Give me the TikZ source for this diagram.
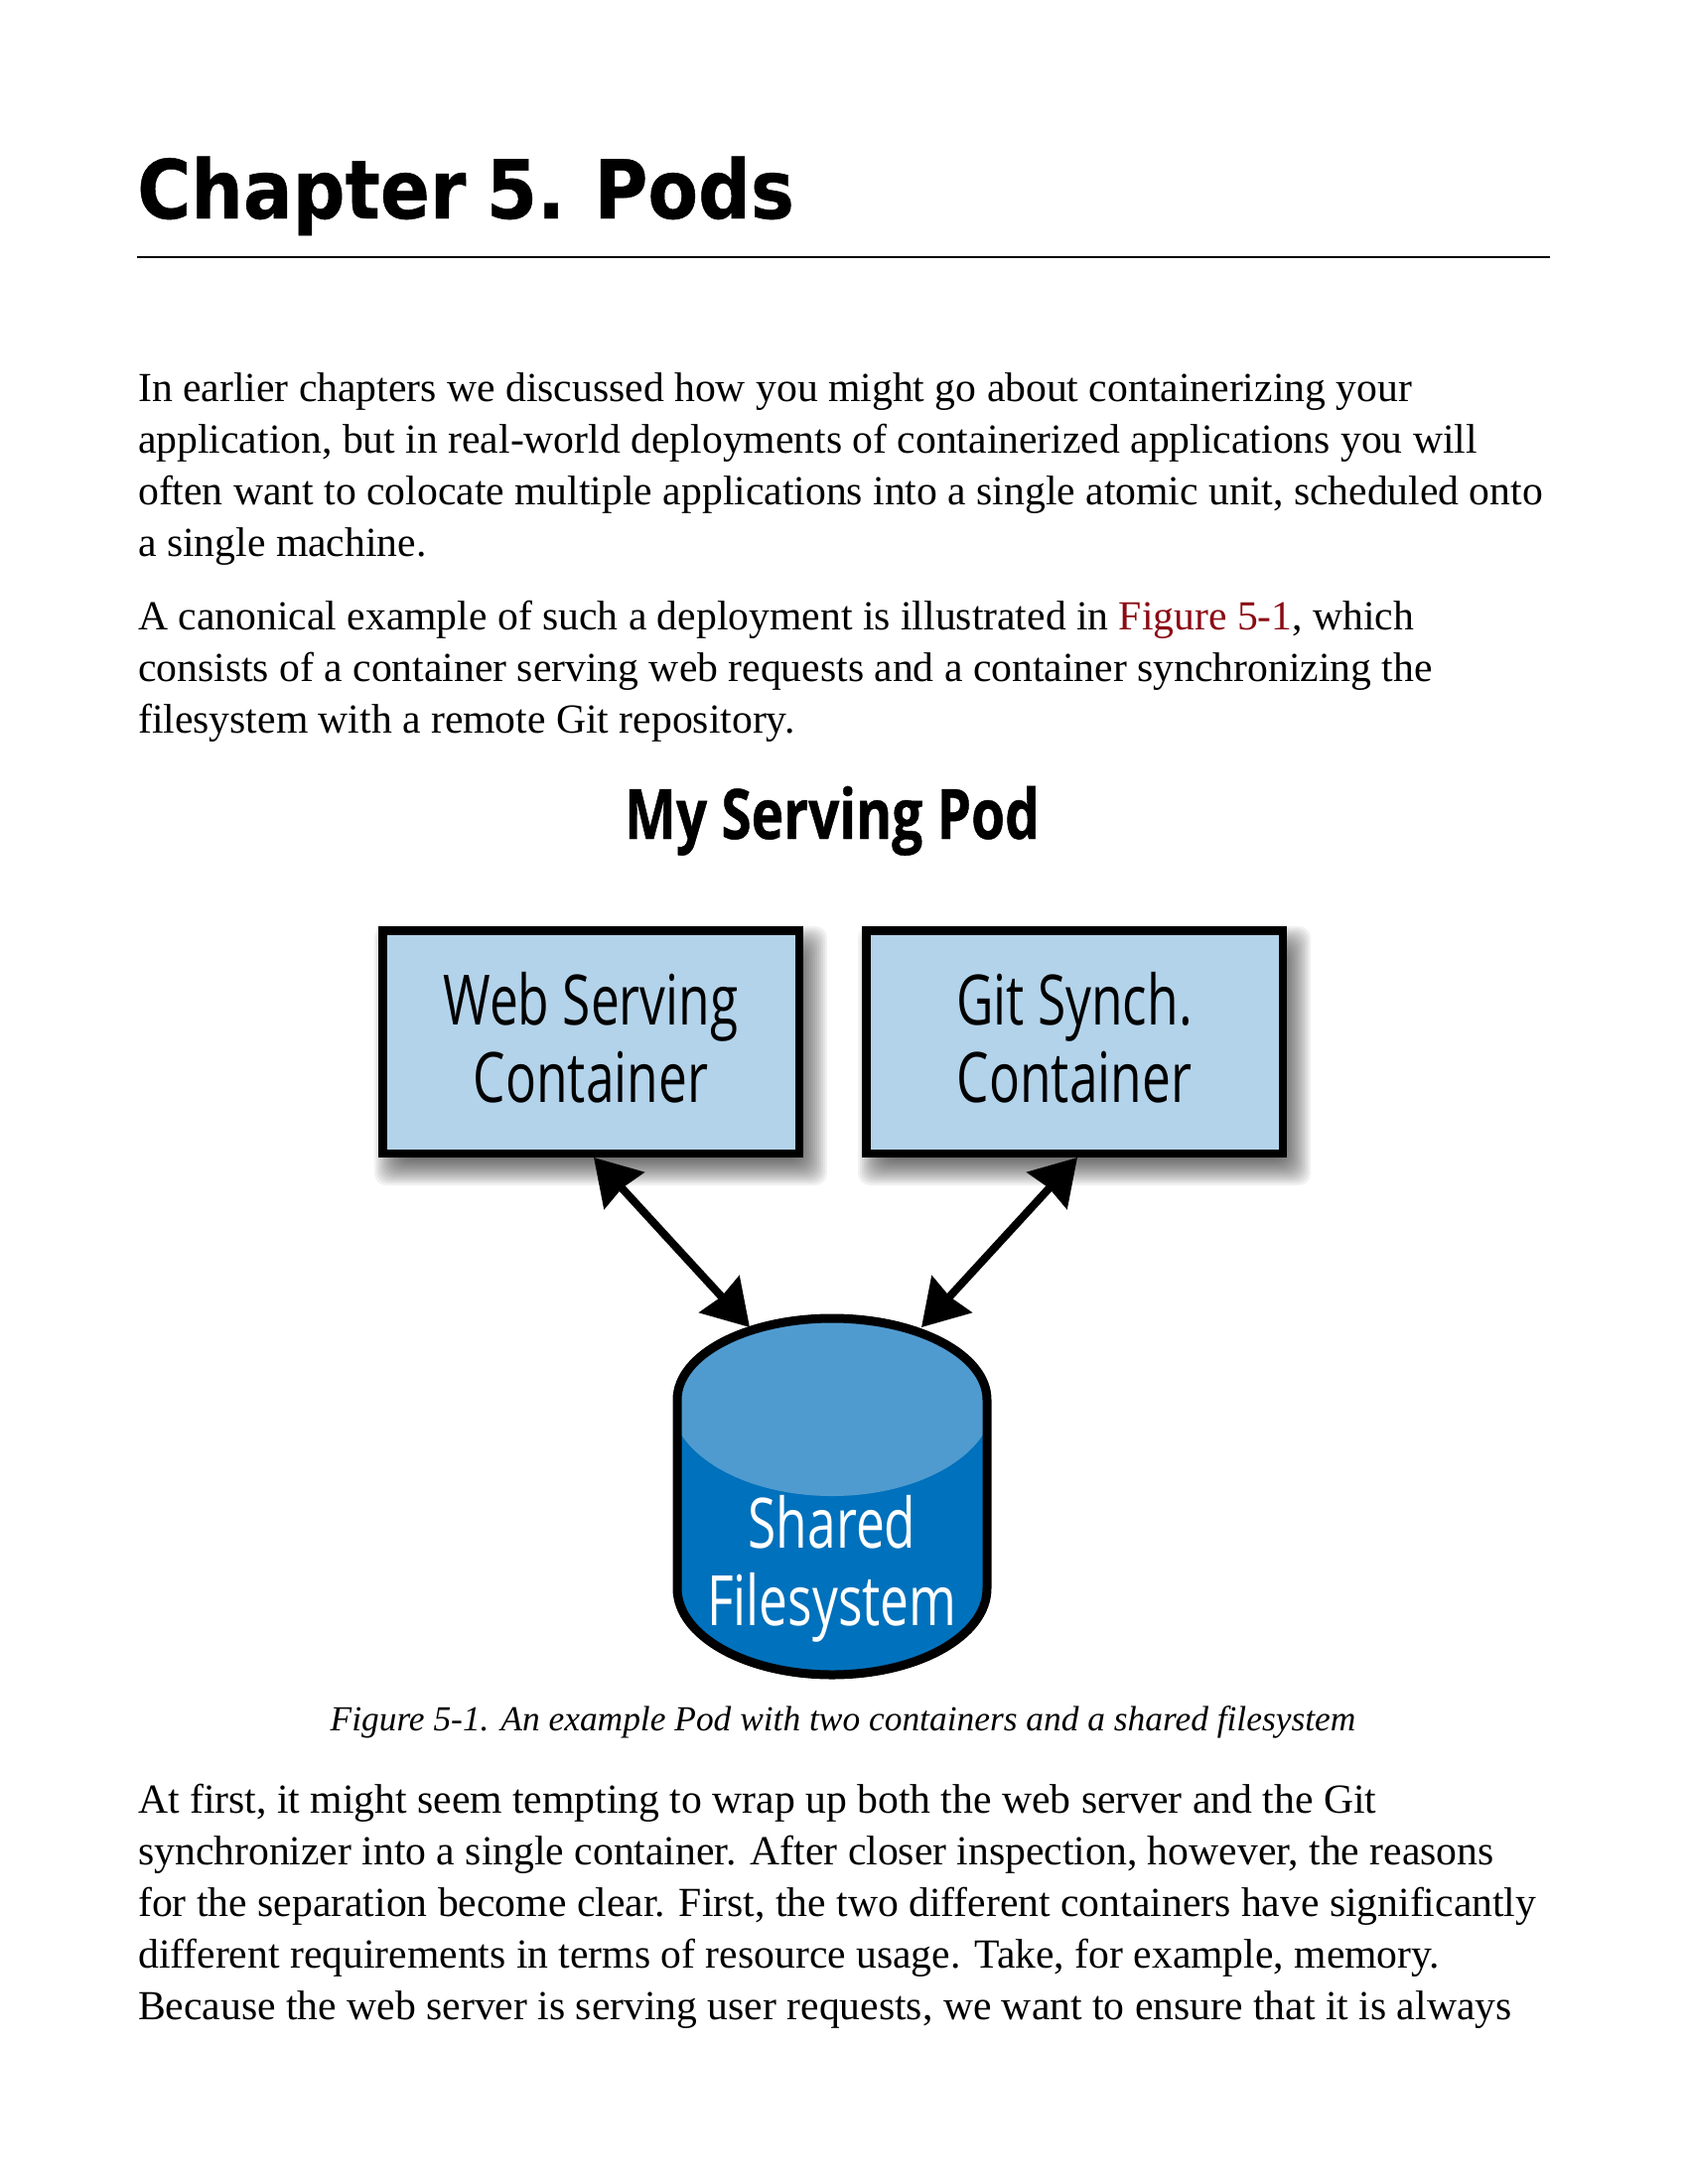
\documentclass[tikz,border=0pt]{standalone}
\usepackage{fontspec}
\setmainfont{Liberation Serif}
\newfontfamily\chapfont[FakeStretch=0.9,WordSpace=0.8,FakeBold=0.5]{DejaVu Sans}
\newfontfamily\podfont[FakeStretch=0.735]{Open Sans}
\newfontfamily\podtitlefont[FakeStretch=0.785,FakeBold=0.6]{Open Sans}
\usetikzlibrary{arrows.meta}
\usetikzlibrary{calc,backgrounds,positioning}
\definecolor{boxblue}{HTML}{B3D3EA}
\definecolor{fslight}{HTML}{4F9BD0}
\definecolor{fsdark}{HTML}{0071BC}
\definecolor{figred}{HTML}{8B0A14}

\begin{document}
\begin{tikzpicture}[x=1pt,y=-1pt,
          bodytext/.style = {anchor=north west, align=left, inner sep=0pt, font=\fontsize{41.65}{52}\selectfont},
          container/.style = {draw=black, fill=boxblue, line width=8.5pt, minimum width=419.5pt,
            minimum height=224.5pt, inner sep=0pt},
          podlabel/.style = {align=center, inner sep=0pt, font=\podfont\fontsize{70}{78}\selectfont},
          link/.style = {<->, line width=8pt, >={Stealth[length=45pt,width=54pt,inset=3pt]}}]
        \useasboundingbox (0,0) rectangle (1700,2200);

        \node [anchor=base west, inner sep=0pt, font=\chapfont\bfseries\fontsize{82}{90}\selectfont] (chaptitle) at (138,220) {Chapter 5. Pods};
        \draw [line width=2.5pt] (138,259) -- (1561,259);

        \node [bodytext] (para1) at (139,375) {In earlier chapters we discussed how you might go about containerizing your\\
            application, but in real-world deployments of containerized applications you will\\
            often want to colocate multiple applications into a single atomic unit, scheduled onto\\
            a single machine.};
        \node [bodytext] (para2) at (139,605) {A canonical example of such a deployment is illustrated in \textcolor{figred}{Figure 5-1}, which\\
            consists of a container serving web requests and a container synchronizing the\\
            filesystem with a remote Git repository.};

        \node [anchor=base, inner sep=0pt, font=\podtitlefont\bfseries\fontsize{70}{78}\selectfont] (podtitle) at (838,845) {My Serving Pod};

        \node [container] (web) at (595,1049.5) {};
        \node [container, right=59pt of web] (git) {};
        \node [podlabel] (weblabel) at ([yshift=4pt]web.center) {Web Serving\\Container};
        \node [podlabel] (gitlabel) at ([yshift=4pt]git.center) {Git Synch.\\Container};

        \begin{scope}[on background layer]
            \foreach \e in {0,2,...,28} {
                \fill [black, fill opacity=0.055, rounded corners=12pt]
                    ($(web.north west)+(\e-4,\e)$) rectangle ($(web.south east)+(24-\e,28-\e)$);
                \fill [black, fill opacity=0.055, rounded corners=12pt]
                    ($(git.north west)+(\e-4,\e)$) rectangle ($(git.south east)+(24-\e,28-\e)$);
            }
        \end{scope}

        \fill [fsdark] (682,1410) -- (682,1600) arc [x radius=156, y radius=87, start angle=180, end angle=0] -- (994,1410)
            arc [x radius=156, y radius=82, start angle=0, end angle=-180] -- cycle;
        \begin{scope}
            \clip (682,1410) arc [x radius=156, y radius=82, start angle=180, end angle=360] -- (994,1520) -- (682,1520) -- cycle;
            \fill [fslight] (838,1410) ellipse [x radius=163, y radius=97];
        \end{scope}
        \draw [line width=9pt] (682,1410) -- (682,1600) arc [x radius=156, y radius=87, start angle=180, end angle=0] -- (994,1410)
            arc [x radius=156, y radius=82, start angle=0, end angle=-180] -- cycle;

        \node [podlabel, text=white] (fs) at (838,1580) {Shared\\Filesystem};

        \coordinate (fsleft) at (755,1337);
        \coordinate (fsright) at (928,1337);
        \draw [link] ([xshift=3pt]web.south) -- (fsleft);
        \draw [link] ([xshift=3pt]git.south) -- (fsright);

        \node [anchor=base, inner sep=0pt, font=\itshape\fontsize{35.4}{42}\selectfont] (caption) at (849,1743) {Figure 5-1. An example Pod with two containers and a shared filesystem};

        \node [bodytext] (para3) at (139,1797) {At first, it might seem tempting to wrap up both the web server and the Git\\
            synchronizer into a single container. After closer inspection, however, the reasons\\
            for the separation become clear. First, the two different containers have significantly\\
            different requirements in terms of resource usage. Take, for example, memory.\\
            Because the web server is serving user requests, we want to ensure that it is always};
\end{tikzpicture}
\end{document}
